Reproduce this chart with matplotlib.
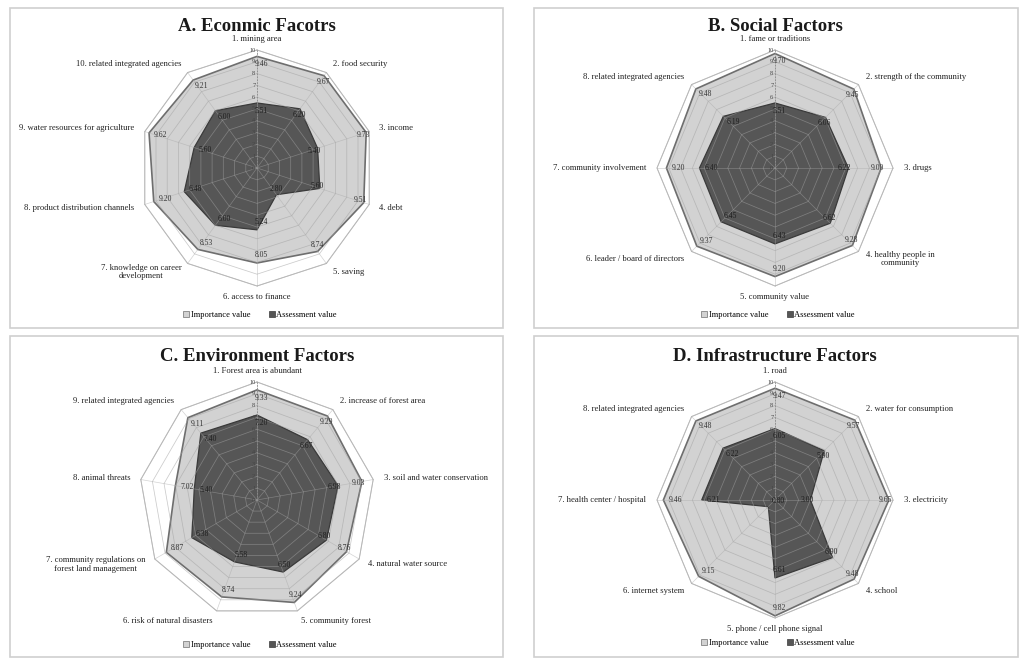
import numpy as np
import matplotlib
matplotlib.use("Agg")
import matplotlib.pyplot as plt
from matplotlib.patches import Rectangle
from matplotlib.lines import Line2D

plt.rcParams['font.family'] = ['Liberation Serif', 'DejaVu Serif']

# ---- data ----
econ_labels = ["1. mining area", "2. food security", "3. income", "4. debt", "5. saving",
               "6. access to finance", "7. knowledge on career\ndevelopment",
               "8. product distribution channels", "9. water resources for agriculture",
               "10. related integrated agencies"]
econ_imp = [9.46, 9.67, 9.73, 9.51, 8.74, 8.05, 8.53, 9.20, 9.62, 9.21]
econ_ass = [5.51, 6.20, 5.40, 5.60, 2.80, 5.24, 6.00, 6.48, 5.60, 6.00]

social_labels = ["1. fame or traditions", "2. strength of the community", "3. drugs",
                 "4. healthy people in\ncommunity", "5. community value",
                 "6. leader / board of directors", "7. community involvement",
                 "8. related integrated agencies"]
social_imp = [9.70, 9.45, 9.00, 9.28, 9.20, 9.37, 9.20, 9.48]
social_ass = [5.51, 6.06, 6.22, 6.62, 6.43, 6.45, 6.40, 6.19]

env_labels = ["1. Forest area is abundant", "2. increase of forest area",
              "3. soil and water conservation", "4. natural water source",
              "5. community forest", "6. risk of natural disasters",
              "7. community regulations on\nforest land management", "8. animal threats",
              "9. related integrated agencies"]
env_imp = [9.33, 9.29, 9.03, 8.76, 9.24, 8.74, 8.87, 7.02, 9.11]
env_ass = [7.20, 6.67, 6.98, 6.80, 6.50, 5.58, 6.38, 5.40, 7.40]

infra_labels = ["1. road", "2. water for consumption", "3. electricity", "4. school",
                "5. phone / cell phone signal", "6. internet system",
                "7. health center / hospital", "8. related integrated agencies"]
infra_imp = [9.47, 9.57, 9.65, 9.48, 9.82, 9.15, 9.46, 9.48]
infra_ass = [6.05, 5.90, 3.00, 6.90, 6.61, 0.80, 6.21, 6.22]

series_names = ["Importance value", "Assessment value"]
ticks = list(range(0, 11))

W, H = 1019, 658
R_PX = 118.0
BOX = 130.0
IMP_C, IMP_E = '#d2d2d2', '#6e6e6e'
ASS_C, ASS_E = '#565656', '#3a3a3a'

fig = plt.figure(figsize=(W / 100, H / 100), dpi=100)
fig.patch.set_facecolor('white')


def frame(x0, y0, x1, y1):
    fig.patches.append(Rectangle((x0 / W, 1 - y1 / H), (x1 - x0) / W, (y1 - y0) / H,
                                 transform=fig.transFigure, fill=False,
                                 ec='#cfcfcf', lw=1.2))


def radar(cx, cy, title, labels, imp, ass, title_dy=12.0, leg_y=None):
    ax = fig.add_axes([(cx - BOX) / W, 1 - (cy + BOX) / H, 2 * BOX / W, 2 * BOX / H])
    lim = BOX / R_PX * 10
    ax.set_xlim(-lim, lim)
    ax.set_ylim(-lim, lim)
    ax.axis('off')

    n = len(labels)
    th = np.pi / 2 - 2 * np.pi * np.arange(n) / n
    c, s = np.cos(th), np.sin(th)
    cc, ss = np.append(c, c[0]), np.append(s, s[0])

    imp = np.array(imp)
    ass = np.array(ass)
    ax.fill(np.append(imp, imp[0]) * cc, np.append(imp, imp[0]) * ss,
            fc=IMP_C, ec=IMP_E, lw=1.2, zorder=2)
    ax.fill(np.append(ass, ass[0]) * cc, np.append(ass, ass[0]) * ss,
            fc=ASS_C, ec=ASS_E, lw=0.9, zorder=3)

    # polygon grid
    for r in ticks[1:]:
        ax.plot(r * cc, r * ss, color='#a0a0a0', lw=0.55, alpha=0.55, zorder=4)
    ax.plot(10 * cc, 10 * ss, color='#b8b8b8', lw=0.7, zorder=4)
    for k in range(n):
        ax.plot([0, 10 * c[k]], [0, 10 * s[k]], color='#a8a8a8', lw=0.5, alpha=0.5, zorder=4)
    ax.plot([0, 0], [0, 10], color='#8a8a8a', lw=0.6, ls=(0, (2, 1.5)), zorder=5)

    for t in ticks:
        ax.text(-0.15, t, str(t), ha='right', va='center', fontsize=4.5,
                color='#444444', zorder=6)

    # data labels
    for k in range(n):
        r1 = imp[k] - 0.65
        ax.text(r1 * c[k] + 0.35, r1 * s[k], f"{imp[k]:.2f}", ha='center', va='center',
                fontsize=5.5, color='#333333', zorder=6)
        r2 = ass[k] - 0.65
        ax.text(r2 * c[k] + 0.35, r2 * s[k], f"{ass[k]:.2f}", ha='center', va='center',
                fontsize=5.5, color='#1e1e1e', zorder=6)

    # category labels
    for k in range(n):
        x, y = 10.9 * c[k], 10.9 * s[k]
        if abs(c[k]) < 0.05:
            ha = 'center'
        elif c[k] > 0:
            ha = 'left'
        else:
            ha = 'right'
        ax.text(x, y, labels[k], ha=ha, va='center', fontsize=6.2, color='#222222',
                multialignment='center', linespacing=1.1)

    ax.text(0, title_dy, title, ha='center', va='center', fontsize=13.5,
            fontweight='bold', color='#1a1a1a')

    handles = [Line2D([], [], ls='none', marker='s', ms=3.8, mfc=IMP_C, mec=IMP_E, mew=0.5),
               Line2D([], [], ls='none', marker='s', ms=3.8, mfc=ASS_C, mec=ASS_E, mew=0.5)]
    fig.legend(handles, series_names, loc='center', ncol=2, frameon=False,
               bbox_to_anchor=((cx + 3) / W, 1 - leg_y / H), fontsize=6.1,
               handletextpad=0.1, columnspacing=2.2, handlelength=0.8)


frame(10, 8, 503, 328)
frame(534, 8, 1018, 328)
frame(10, 336, 503, 657)
frame(534, 336, 1018, 657)

radar(257, 168, "A. Econmic Facotrs", econ_labels, econ_imp, econ_ass, 11.95, 315)
radar(775, 168, "B. Social Factors", social_labels, social_imp, social_ass, 11.95, 315)
radar(257, 500, "C. Environment Factors", env_labels, env_imp, env_ass, 12.2, 645)
radar(775, 500, "D. Infrastructure Factors", infra_labels, infra_imp, infra_ass, 12.2, 643)

fig.savefig("out.png", dpi=100)
